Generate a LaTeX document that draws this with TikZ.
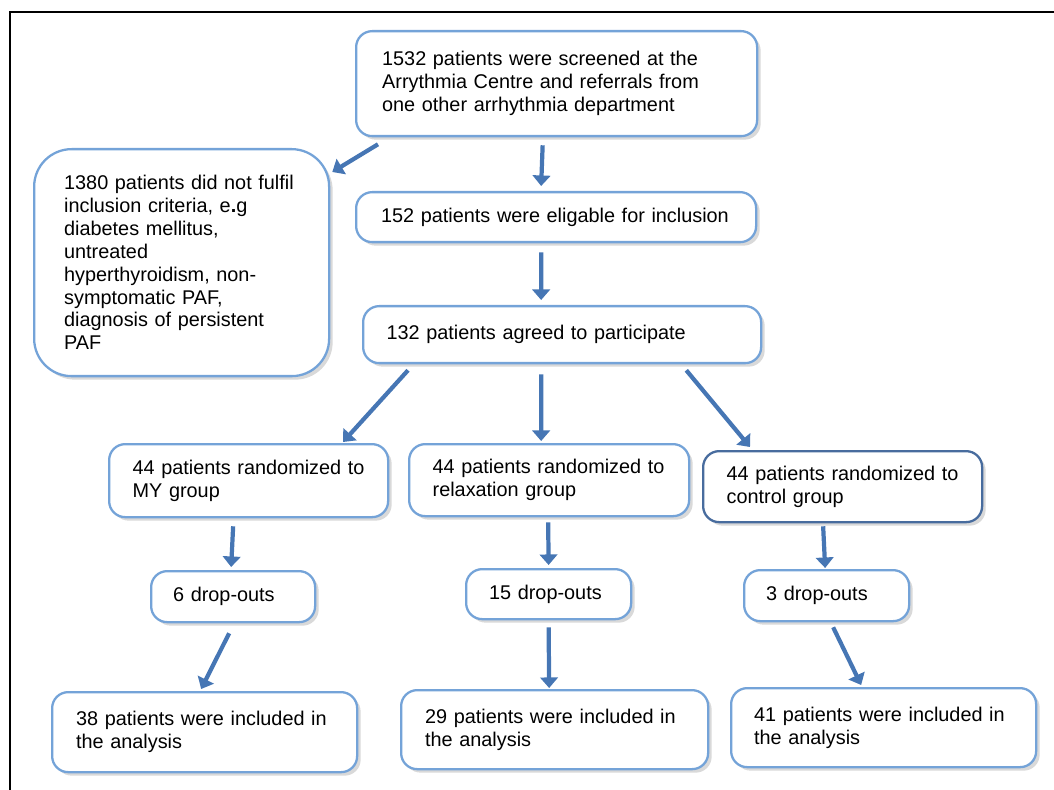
\documentclass[tikz,border=0pt]{standalone}
\usepackage{fontspec}
\setmainfont{Liberation Sans}
\usetikzlibrary{arrows.meta,shadows}

\definecolor{bordecaja}{RGB}{116,163,216}
\definecolor{bordeoscuro}{RGB}{72,108,158}
\definecolor{azulflecha}{RGB}{70,118,180}

\begin{document}
\begin{tikzpicture}[line width=1pt,
  caja/.style={draw=bordecaja,line width=1.3pt,fill=white,rounded corners=0.32cm,
    anchor=north west,align=left,inner xsep=0.47cm,inner ysep=0pt,
    font=\fontsize{11.3}{13}\selectfont,
    drop shadow={shadow xshift=2pt,shadow yshift=-2pt,opacity=0.3}},
  flecha/.style={draw=azulflecha,line width=2.4pt,-{Triangle[length=6pt,width=10pt]}}]
  \useasboundingbox (0,0) rectangle (21.08,-15.8);
  % marco
  \draw (0.2,-15.8) -- (0.2,-0.24) -- (21.08,-0.24);
  % cajas superiores
  \node[caja,text width=6.98cm,minimum height=2.1cm,inner xsep=0.52cm] (cribado) at (7.10,-0.60)
    {1532 patients were screened at the\\Arrythmia Centre and referrals from\\one other arrhythmia department};
  \node[caja,text width=4.7cm,minimum height=4.54cm,inner xsep=0.6cm,rounded corners=0.75cm] (excluidos) at (0.66,-2.96)
    {1380 patients did not fulfil\\inclusion criteria, e\textbf{.}g\\diabetes mellitus,\\untreated\\hyperthyroidism, non-\\symptomatic PAF,\\diagnosis of persistent\\PAF};
  \node[caja,text width=7.0cm,minimum height=1.0cm,inner xsep=0.5cm] (elegibles) at (7.10,-3.82)
    {152 patients were eligable for inclusion};
  \node[caja,text width=7.02cm,minimum height=1.14cm] (aceptan) at (7.24,-6.10)
    {132 patients agreed to participate};
  % grupos
  \node[caja,text width=4.64cm,minimum height=1.46cm] (grupoMY) at (2.16,-8.86)
    {44 patients randomized to\\MY group};
  \node[caja,text width=4.66cm,minimum height=1.44cm] (grupoRel) at (8.16,-8.86)
    {44 patients randomized to\\relaxation group};
  \node[caja,draw=bordeoscuro,text width=4.64cm,minimum height=1.42cm] (grupoCtl) at (14.04,-9.00)
    {44 patients randomized to\\control group};
  % abandonos
  \node[caja,text width=2.4cm,minimum height=1.02cm,inner xsep=0.44cm] (bajaMY) at (3.00,-11.40) {6 drop-outs};
  \node[caja,text width=2.38cm,minimum height=1.0cm,inner xsep=0.46cm] (bajaRel) at (9.30,-11.36) {15 drop-outs};
  \node[caja,text width=2.42cm,minimum height=1.02cm,inner xsep=0.44cm] (bajaCtl) at (14.86,-11.38) {3 drop-outs};
  % analisis
  \node[caja,text width=5.14cm,minimum height=1.6cm,inner xsep=0.48cm] (analMY) at (1.02,-13.82)
    {38 patients were included in\\the analysis};
  \node[caja,text width=5.18cm,minimum height=1.58cm,inner xsep=0.48cm] (analRel) at (8.00,-13.78)
    {29 patients were included in\\the analysis};
  \node[caja,text width=5.18cm,minimum height=1.58cm,inner xsep=0.46cm] (analCtl) at (14.60,-13.74)
    {41 patients were included in\\the analysis};
  % flechas
  \draw[flecha] ([shift={(0.46,-0.14)}]cribado.south west) -- ([shift={(0.04,-0.48)}]excluidos.north east);
  \draw[flecha] ([shift={(-0.28,-0.16)}]cribado.south) -- ([shift={(-0.30,0.1)}]elegibles.north);
  \draw[flecha] ([shift={(-0.30,-0.18)}]elegibles.south) -- ([shift={(-0.42,0.1)}]aceptan.north);
  \draw[flecha] ([shift={(0.92,-0.12)}]aceptan.south west) -- ([shift={(4.70,0.02)}]grupoMY.north west);
  \draw[flecha] ([shift={(-0.42,-0.2)}]aceptan.south) -- ([shift={(-0.16,0.04)}]grupoRel.north);
  \draw[flecha] ([shift={(-1.52,-0.12)}]aceptan.south east) -- ([shift={(0.96,0.06)}]grupoCtl.north west);
  \draw[flecha] ([shift={(-0.31,-0.16)}]grupoMY.south) -- ([shift={(-0.04,0.06)}]bajaMY.north);
  \draw[flecha] ([shift={(-0.02,-0.1)}]grupoRel.south) -- ([shift={(0,0.06)}]bajaRel.north);
  \draw[flecha] ([shift={(-0.39,-0.06)}]grupoCtl.south) -- ([shift={(-0.03,0.02)}]bajaCtl.north);
  \draw[flecha] ([shift={(-0.08,-0.2)}]bajaMY.south) -- ([shift={(-0.07,0.04)}]analMY.north);
  \draw[flecha] ([shift={(0,-0.14)}]bajaRel.south) -- ([shift={(-0.11,0.02)}]analRel.north);
  \draw[flecha] ([shift={(0.13,-0.1)}]bajaCtl.south) -- ([shift={(-0.45,0.04)}]analCtl.north);
\end{tikzpicture}
\end{document}
